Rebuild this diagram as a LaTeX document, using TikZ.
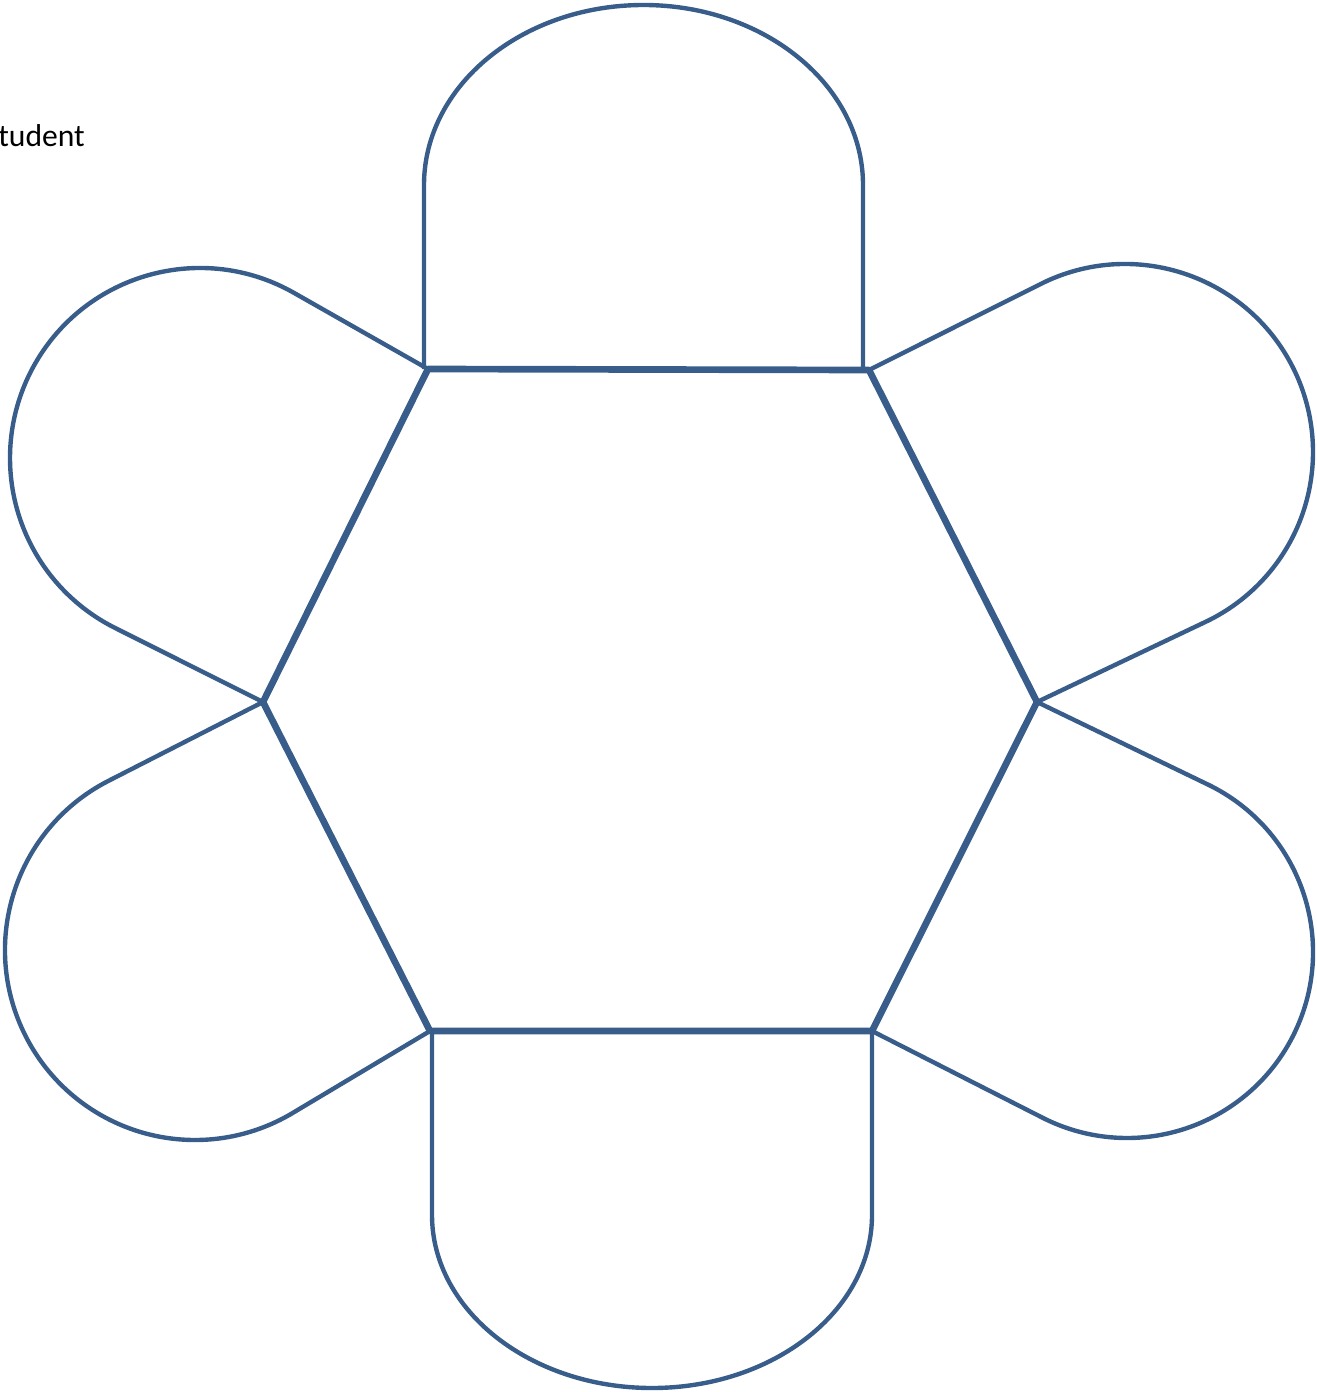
\documentclass[tikz,border=0pt]{standalone}
\usepackage{fontspec}
\setmainfont{Carlito}
\usepackage{tikz}
\definecolor{petalBlue}{RGB}{56, 93, 138}

\begin{document}
\begin{tikzpicture}[x=0.02cm, y=-0.02cm,
    petal/.style={draw=petalBlue, line width=2.5pt, line join=round},
    hexline/.style={draw=petalBlue, line width=3.8pt, line join=round}]
        \useasboundingbox (0,0) rectangle (1316,1392);
        % hexagon corners
        \coordinate (hTL) at (428,369);
        \coordinate (hTR) at (869,370);
        \coordinate (hR)  at (1037,702);
        \coordinate (hBR) at (872,1031);
        \coordinate (hBL) at (430,1031);
        \coordinate (hL)  at (263,702);
        % petal centres
        \coordinate (cUL) at (200,458);
        \coordinate (cLL) at (195,950);
        \coordinate (cUR) at (1125,452);
        \coordinate (cLR) at (1127,952);
        \node[anchor=base west, inner sep=0pt, font=\fontsize{18}{21}\selectfont] (lbl) at (-2,147) {tudent};
        % top and bottom petals
        \draw[petal] (424,369) -- (424,185)
          arc[start angle=180, end angle=360, x radius=219.5, y radius=180] -- (863,369);
        \draw[petal] (432,1031) -- (432,1215)
          arc[start angle=180, end angle=0, x radius=220, y radius=173] -- (872,1031);
        % side petals
        \draw[petal] (hTL) -- ([shift={(cUL)}]-60.39:190)
          arc[start angle=-60.39, end angle=-243.41, radius=190] -- (hL);
        \draw[petal] (hL) -- ([shift={(cLL)}]-117.04:190)
          arc[start angle=-117.04, end angle=-300.82, radius=190] -- (hBL);
        \draw[petal] (hTR) -- ([shift={(cUR)}]-116.62:188)
          arc[start angle=-116.62, end angle=64.58, radius=188] -- (hR);
        \draw[petal] (hR) -- ([shift={(cLR)}]-64.23:186)
          arc[start angle=-64.23, end angle=116.94, radius=186] -- (hBR);
        \draw[hexline] (hTL) -- (hTR) -- (hR) -- (hBR) -- (hBL) -- (hL) -- cycle;
      \end{tikzpicture}
\end{document}
